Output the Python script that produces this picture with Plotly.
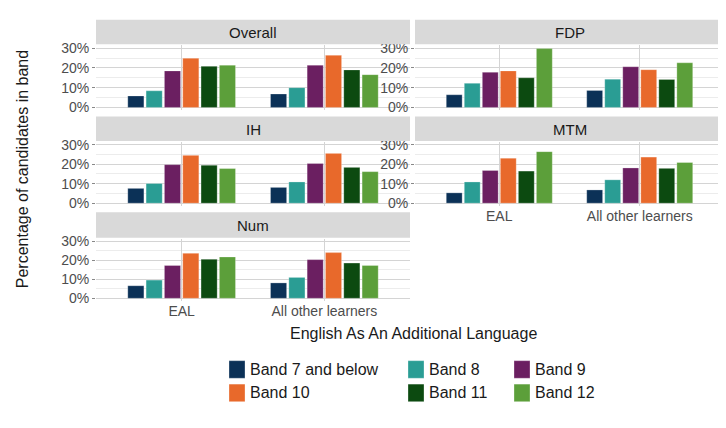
import plotly.graph_objects as go

categories = ["EAL", "All other learners"]
bands = ["Band 7 and below", "Band 8", "Band 9", "Band 10", "Band 11", "Band 12"]
colors = ["#0b3157", "#2a9d94", "#6b1f61", "#e8692b", "#0c4a10", "#5c9f3a"]
panels = ["Overall", "FDP", "IH", "MTM", "Num"]
# values per panel: [band][category]
overall = [[5.8, 6.8], [8.4, 10.0], [18.5, 21.4], [24.9, 26.4], [20.8, 19.0], [21.4, 16.6]]
fdp = [[6.4, 8.6], [12.2, 14.3], [17.8, 20.6], [18.5, 19.1], [15.0, 14.2], [29.8, 22.6]]
ih = [[7.6, 8.1], [10.1, 10.9], [19.8, 20.4], [24.6, 25.6], [19.5, 18.4], [17.8, 16.2]]
mtm = [[5.3, 6.8], [10.9, 12.0], [16.8, 18.1], [23.1, 23.7], [16.5, 17.9], [26.5, 20.9]]
num = [[6.6, 8.1], [9.6, 11.0], [17.3, 20.4], [23.7, 24.1], [20.6, 18.6], [21.8, 17.3]]
data = [overall, fdp, ih, mtm, num]
yticks = [0, 10, 20, 30]
ytick_text = ["0%", "10%", "20%", "30%"]

W, H = 726, 428
colx = [(88, 402), (407, 716)]
# (strip top, plot top, plot bottom) in pixels
rows = [(7, 33, 99.7), (106, 132, 197.7), (204, 231, 295)]
pos = [(0, 0), (1, 0), (0, 1), (1, 1), (0, 2)]

fig = go.Figure()
layout = {}
font = "Liberation Sans, Arial, sans-serif"
for p, (name, vals) in enumerate(zip(panels, data)):
    c, r = pos[p]
    xa = "x" if p == 0 else f"x{p+1}"
    ya = "y" if p == 0 else f"y{p+1}"
    for b in range(6):
        fig.add_trace(go.Bar(x=categories, y=vals[b], name=bands[b], marker_color=colors[b],
                             marker_line=dict(color="rgba(255,255,255,0.5)", width=0.5),
                             showlegend=False, xaxis=xa, yaxis=ya))
    x0, x1 = colx[c]
    st, pt, pb = rows[r]
    bottom = (p in (3, 4))
    layout["xaxis" if p == 0 else f"xaxis{p+1}"] = dict(
        domain=[x0 / W, x1 / W], anchor=ya, range=[-0.6, 1.6], type="category",
        showgrid=True, gridcolor="#d4d4d4", showticklabels=bottom, ticks="",
        tickfont=dict(size=14, color="#4d4d4d", family=font), zeroline=False)
    layout["yaxis" if p == 0 else f"yaxis{p+1}"] = dict(
        domain=[1 - pb / H, 1 - pt / H], anchor=xa, range=[-1.5, 31.5],
        tickvals=yticks, ticktext=ytick_text, showgrid=True, gridcolor="#d4d4d4",
        minor=dict(tickvals=[5, 15, 25], showgrid=True, gridcolor="#ececec"),
        ticks="outside", ticklen=3, tickcolor="#888", zeroline=False,
        tickfont=dict(size=14, color="#4d4d4d", family=font))
    fig.add_shape(type="rect", xref="paper", yref="paper", x0=x0 / W, x1=x1 / W,
                  y0=1 - (pt - 1) / H, y1=1 - st / H, fillcolor="#d9d9d9", line_width=0)
    fig.add_annotation(text=name, xref="paper", yref="paper", x=(x0 + x1) / 2 / W,
                       y=1 - (st + pt) / 2 / H, showarrow=False, xanchor="center",
                       yanchor="middle", font=dict(size=15, color="#1a1a1a", family=font))

fig.add_annotation(text="Percentage of candidates in band", xref="paper", yref="paper",
                   x=14 / W, y=1 - 160 / H, textangle=-90, showarrow=False,
                   xanchor="center", yanchor="middle",
                   font=dict(size=16, color="#1a1a1a", family=font))
fig.add_annotation(text="English As An Additional Language", xref="paper", yref="paper",
                   x=405 / W, y=1 - 328 / H, showarrow=False, xanchor="center",
                   yanchor="middle", font=dict(size=16, color="#1a1a1a", family=font))

# manual legend (2 rows x 3)
leg_pos = [(221, 365), (400, 365), (506, 365), (221, 389), (400, 389), (506, 389)]
for b, (lx, ly) in enumerate(leg_pos):
    fig.add_shape(type="rect", xref="paper", yref="paper", x0=lx / W, x1=(lx + 16) / W,
                  y0=1 - (ly + 9) / H, y1=1 - (ly - 9) / H, fillcolor=colors[b],
                  line=dict(color="rgba(255,255,255,0.6)", width=0.5))
    fig.add_annotation(text=bands[b], xref="paper", yref="paper", x=(lx + 19) / W,
                       y=1 - ly / H, xanchor="left", yanchor="middle", showarrow=False,
                       font=dict(size=16, color="#1a1a1a", family=font))

fig.update_layout(width=W, height=H, margin=dict(l=0, r=0, t=0, b=0),
                  plot_bgcolor="white", paper_bgcolor="white", barmode="group",
                  bargap=0.23, bargroupgap=0.12, **layout)
fig.write_html("out.html")
